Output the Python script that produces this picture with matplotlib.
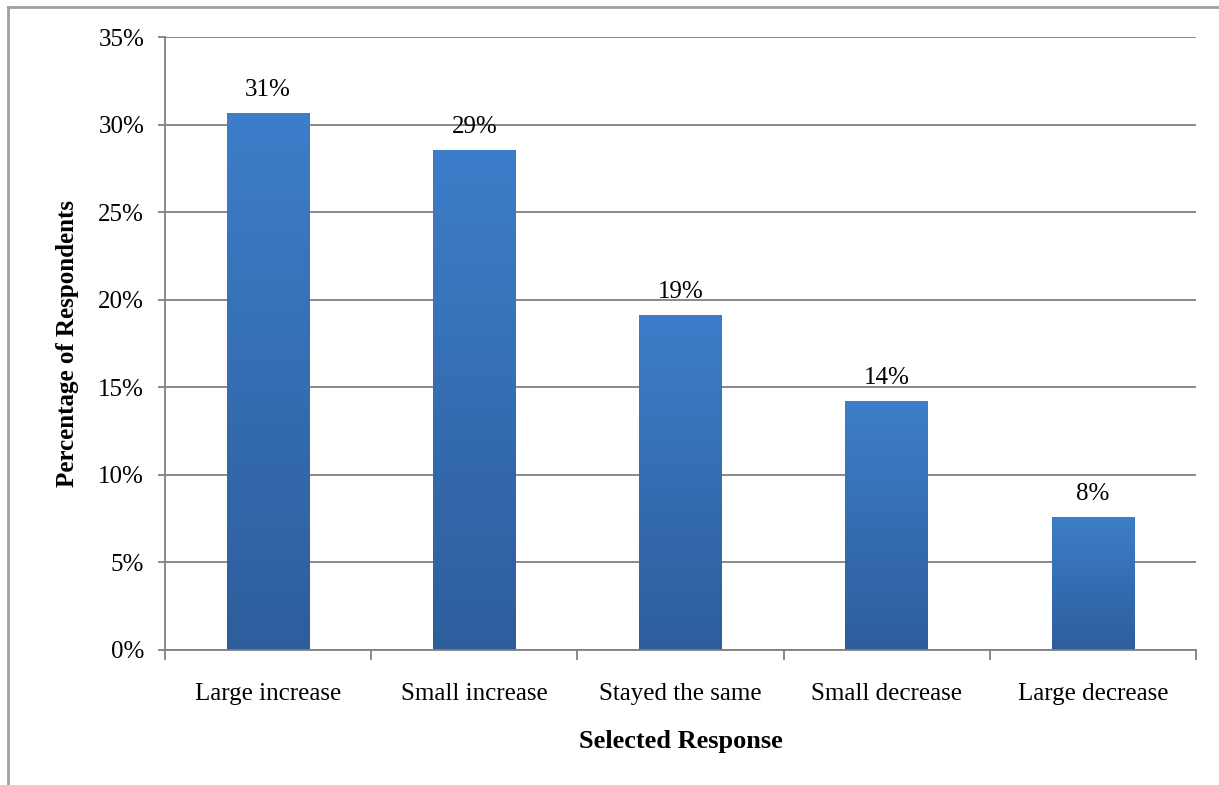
import numpy as np
import matplotlib
matplotlib.use("Agg")
import matplotlib.pyplot as plt
from matplotlib.colors import LinearSegmentedColormap
from matplotlib.lines import Line2D
from matplotlib.ticker import FuncFormatter, MultipleLocator

categories = ["Large increase", "Small increase", "Stayed the same",
              "Small decrease", "Large decrease"]
shares = [30.65, 28.55, 19.1, 14.2, 7.6]
y_ticks = [0, 5, 10, 15, 20, 25, 30, 35]

plt.rcParams["font.family"] = ["Liberation Serif", "DejaVu Serif"]

fig = plt.figure(figsize=(12.19, 7.85), dpi=100)
ax = fig.add_axes([165 / 1219, 1 - 650 / 785, (1196 - 165) / 1219, (650 - 37) / 785])

x = np.arange(len(categories))
bars = ax.bar(x, shares, width=0.4, color="#3569b0", zorder=2)

# vertical gradient inside each bar, lighter at the top
grad = LinearSegmentedColormap.from_list("bar", ["#2d5e9c", "#3d7dc9"])
ramp = np.linspace(0, 1, 256).reshape(-1, 1)
for b in bars:
    x0, w, h = b.get_x(), b.get_width(), b.get_height()
    im = ax.imshow(ramp, cmap=grad, origin="lower", aspect="auto",
                   extent=[x0, x0 + w, 0, h], zorder=2.5)
    im.set_clip_path(b)
    b.set_alpha(0)

for xi, v in zip(x, shares):
    ax.text(xi, v + 0.7, f"{round(v)}%", ha="center", va="bottom", fontsize=18)

ax.set_xlim(-0.5, len(categories) - 0.5)
ax.set_ylim(0, 35)
ax.set_yticks(y_ticks)
ax.yaxis.set_major_formatter(FuncFormatter(lambda v, _: f"{v:.0f}%"))
ax.yaxis.grid(True, color="#808080", linewidth=1.3, zorder=0)
ax.set_axisbelow(True)

ax.set_xticks(x)
ax.set_xticklabels(categories, fontsize=18)
ax.xaxis.set_minor_locator(MultipleLocator(1, offset=0.5))
ax.tick_params(axis="x", which="major", length=0, pad=24)
ax.tick_params(axis="x", which="minor", length=7, color="#808080", width=1.3)
ax.tick_params(axis="y", length=5, color="#808080", width=1.3, labelsize=18, pad=10)

for side in ("top", "right"):
    ax.spines[side].set_visible(False)
for side in ("left", "bottom"):
    ax.spines[side].set_color("#808080")
    ax.spines[side].set_linewidth(1.3)

ax.set_xlabel("Selected Response", fontsize=19, fontweight="bold", labelpad=18)
ax.set_ylabel("Percentage of Respondents", fontsize=18, fontweight="bold", labelpad=14)

# chart frame (top and left edges visible)
fig.add_artist(Line2D([8 / 1219, 1], [1 - 7 / 785, 1 - 7 / 785],
                      color="#a0a0a0", linewidth=2, transform=fig.transFigure))
fig.add_artist(Line2D([8 / 1219, 8 / 1219], [0, 1 - 7 / 785],
                      color="#a0a0a0", linewidth=2, transform=fig.transFigure))

fig.savefig("out.png", dpi=100)
